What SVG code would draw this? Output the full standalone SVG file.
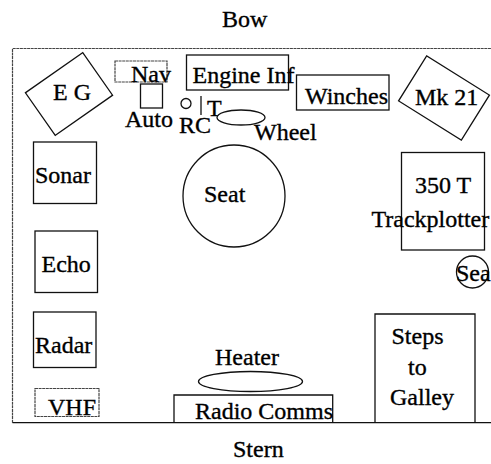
<svg xmlns="http://www.w3.org/2000/svg" width="491" height="464" viewBox="0 0 491 464" font-family="'Liberation Serif', 'Times New Roman', 'DejaVu Serif', serif" font-size="24">
<style>
text{font-family:'Liberation Serif','Times New Roman','DejaVu Serif',serif;font-size:24px;fill:#000;stroke:#000;stroke-width:0.35}
.b{fill:none;stroke:#111;stroke-width:1.3}
.g{fill:none;stroke:#444;stroke-width:1.2;stroke-dasharray:3 0.6}
</style>
<rect width="491" height="464" fill="#fff"/>
<g id="frame">
<path d="M12.5,422.7 V48.5 H493" class="g"/>
<path d="M12.5,422.7 H493" class="b" stroke-width="1.6"/>
</g>
<text id="bow" x="222" y="27">Bow</text>
<text id="stern" x="233" y="457">Stern</text>
<g id="eg">
<rect x="34" y="68" width="70" height="52" transform="rotate(-35 69 94)" class="b"/>
<text x="53" y="100">E G</text>
</g>
<g id="nav">
<rect x="115" y="61" width="52" height="21" class="g"/>
<text x="131" y="82">Nav</text>
</g>
<g id="auto">
<rect x="140.5" y="84" width="22" height="24" class="b"/>
<text x="125" y="127">Auto</text>
</g>
<g id="rc">
<circle cx="186" cy="103.5" r="5" class="b"/>
<text x="179" y="133">RC</text>
</g>
<g id="throttle">
<line x1="201" y1="96" x2="201" y2="115" class="b"/>
<text x="207" y="116">T</text>
</g>
<g id="wheel">
<ellipse cx="241" cy="117.5" rx="24" ry="7.5" class="b"/>
<text x="254" y="140">Wheel</text>
</g>
<g id="engine-inf">
<rect x="186.5" y="55" width="102" height="35" class="b"/>
<text x="192.5" y="82.5">Engine Inf</text>
</g>
<g id="winches">
<rect x="296.5" y="75" width="92.5" height="35" class="b"/>
<text x="305" y="103.5">Winches</text>
</g>
<g id="mk21">
<rect x="407" y="71.5" width="74" height="53" transform="rotate(32 444 98)" class="b"/>
<text x="415" y="105">Mk 21</text>
</g>
<g id="sonar">
<rect x="33.5" y="142" width="63" height="61.5" class="b"/>
<text x="35" y="183">Sonar</text>
</g>
<g id="echo">
<rect x="35" y="231" width="62.5" height="61.5" class="b"/>
<text x="41.5" y="272">Echo</text>
</g>
<g id="seat">
<circle cx="234" cy="196" r="51" class="b"/>
<text x="204" y="201.5">Seat</text>
</g>
<g id="trackplotter">
<rect x="401.5" y="152.5" width="83" height="97.5" class="b"/>
<text x="415" y="193">350 T</text>
<text x="371.5" y="226.5">Trackplotter</text>
</g>
<g id="sea">
<circle cx="472.5" cy="272" r="16" class="b"/>
<text x="456" y="281">Sea</text>
</g>
<g id="radar">
<rect x="33.5" y="312" width="62.5" height="55.5" class="b"/>
<text x="35" y="353">Radar</text>
</g>
<g id="vhf">
<rect x="35" y="388.5" width="64" height="28" class="g"/>
<text x="48" y="415">VHF</text>
</g>
<g id="heater">
<ellipse cx="250.5" cy="381.5" rx="52" ry="10" class="b"/>
<text x="215" y="365">Heater</text>
</g>
<g id="radio-comms">
<path d="M174,422.7 V395 H332.7 V422.7" class="b"/>
<text x="195" y="418.5">Radio Comms</text>
</g>
<g id="steps">
<path d="M375,422.7 V314 H475 V422.7" class="b"/>
<text x="391.5" y="343.5">Steps</text>
<text x="408" y="375">to</text>
<text x="390" y="405">Galley</text>
</g>
</svg>
